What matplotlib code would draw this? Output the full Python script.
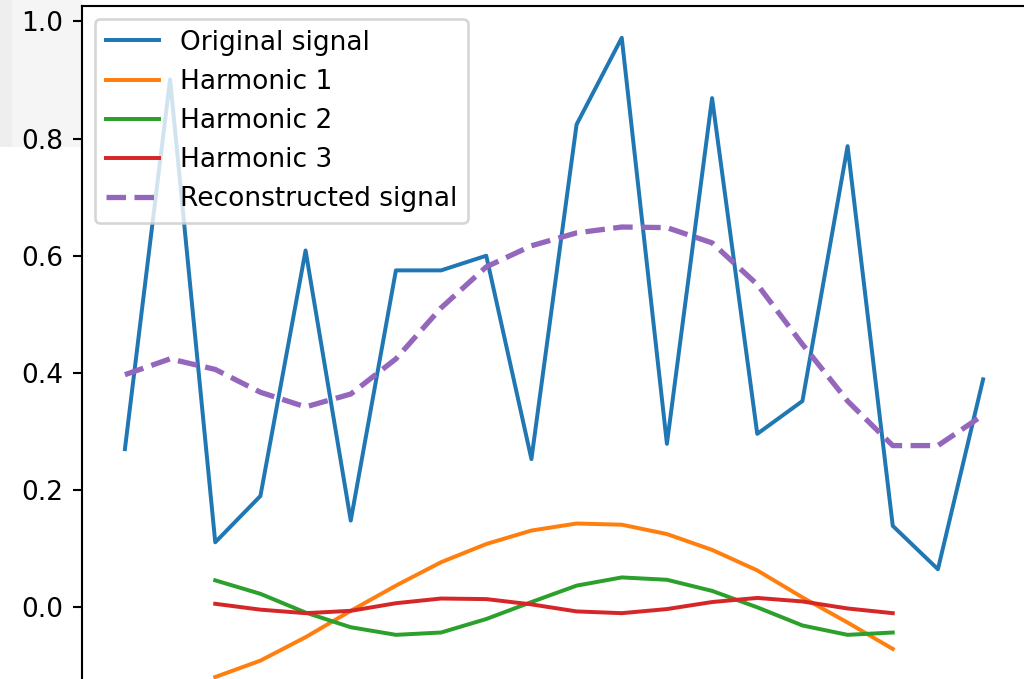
import matplotlib.pyplot as plt
from matplotlib.patches import Rectangle

# sample index of the signal
samples = list(range(20))
harmonicSamples = list(range(2, 18))

originalSignal = [0.270, 0.901, 0.111, 0.190, 0.609, 0.148, 0.575, 0.575, 0.600, 0.253,
                  0.824, 0.972, 0.279, 0.869, 0.296, 0.352, 0.787, 0.139, 0.065, 0.389]

reconstructedSignal = [0.397, 0.424, 0.406, 0.367, 0.342, 0.364, 0.424, 0.511, 0.581, 0.617,
                       0.639, 0.649, 0.648, 0.622, 0.551, 0.449, 0.352, 0.276, 0.276, 0.328]

harmonic1 = [-0.119, -0.091, -0.051, -0.006, 0.037, 0.077, 0.108, 0.131,
             0.143, 0.141, 0.125, 0.098, 0.063, 0.017, -0.026, -0.071]
harmonic2 = [0.046, 0.023, -0.009, -0.034, -0.047, -0.043, -0.020, 0.009,
             0.037, 0.051, 0.047, 0.028, 0.000, -0.031, -0.047, -0.043]
harmonic3 = [0.006, -0.004, -0.010, -0.006, 0.007, 0.015, 0.014, 0.005,
             -0.007, -0.010, -0.003, 0.009, 0.016, 0.010, -0.002, -0.010]

harmonics = [harmonic1, harmonic2, harmonic3]

dpi = 190
fig = plt.figure(figsize=(1024 / dpi, 679 / dpi), dpi=dpi)

# light grey bits of the screenshot around the top-left corner
fig.add_artist(Rectangle((0, 1 - 147 / 679), 82 / 1024, 147 / 679,
                         transform=fig.transFigure, facecolor='#f5f5f5',
                         edgecolor='none', zorder=-1))
fig.add_artist(Rectangle((0, 1 - 147 / 679), 12 / 1024, 147 / 679,
                         transform=fig.transFigure, facecolor='#eeeeee',
                         edgecolor='none', zorder=-1))

# the axes run past the right and bottom edges, like the cropped screenshot
ax = fig.add_axes([82 / 1024, 1 - 709 / 679, (1026 - 82) / 1024, (709 - 5.8) / 679])

ax.plot(samples, originalSignal, label='Original signal')
for i, h in enumerate(harmonics, start=1):
    ax.plot(harmonicSamples, h, label=f'Harmonic {i}')
ax.plot(samples, reconstructedSignal, '--', linewidth=2, label='Reconstructed signal')

# x labels sit below the crop anyway
ax.tick_params(axis='x', labelbottom=False)

ax.legend(loc='upper left')

fig.savefig('out.png', dpi=dpi)
